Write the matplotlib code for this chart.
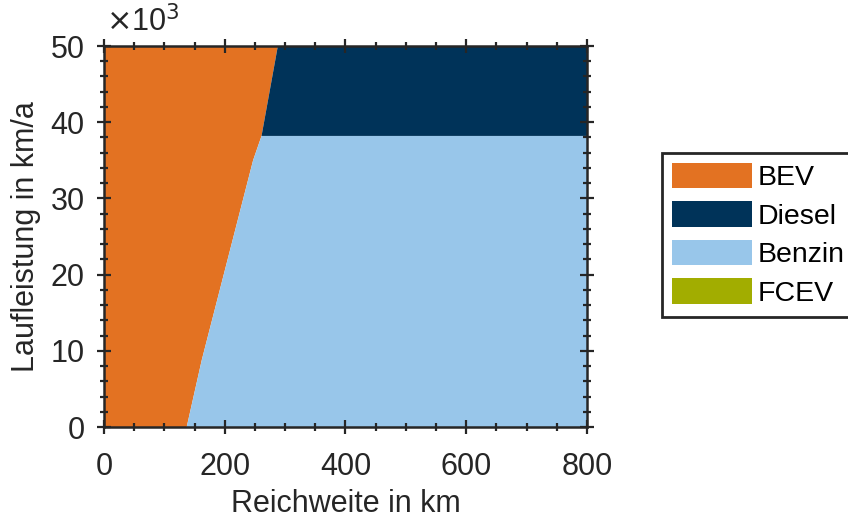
import matplotlib.pyplot as plt
from matplotlib.patches import Patch
from matplotlib.ticker import MultipleLocator, FuncFormatter

plt.rcParams['font.family'] = ['Liberation Sans', 'DejaVu Sans']

# boundary BEV / combustion (Reichweite in km vs. Laufleistung in km/a)
bound_x = [137, 162, 247, 261, 288]
bound_y = [0, 8800, 35000, 38200, 50000]
diesel_y = 38200          # Diesel above, Benzin below
x_max = 800
y_max = 50000

names = ['BEV', 'Diesel', 'Benzin', 'FCEV']
colors = ['#E37222', '#003359', '#98C6EA', '#A2AD00']

fig = plt.figure(figsize=(8.48, 5.24), dpi=100)
ax = fig.add_axes([0.1226, 0.1851, 0.5696, 0.7271])

# BEV region
bev_x = [0] + bound_x + [0]
bev_y = [0] + bound_y + [y_max]
ax.fill(bev_x, bev_y, color=colors[0], lw=0)

# Benzin region (below diesel threshold)
low = [(x, y) for x, y in zip(bound_x, bound_y) if y <= diesel_y]
benz_x = [p[0] for p in low] + [x_max, x_max]
benz_y = [p[1] for p in low] + [diesel_y, 0]
ax.fill(benz_x, benz_y, color=colors[2], lw=0)

# Diesel region
high = [(x, y) for x, y in zip(bound_x, bound_y) if y >= diesel_y]
dies_x = [p[0] for p in high] + [x_max, x_max]
dies_y = [p[1] for p in high] + [y_max, diesel_y]
ax.fill(dies_x, dies_y, color=colors[1], lw=0)

ax.set_xlim(0, x_max)
ax.set_ylim(0, y_max)
ax.xaxis.set_major_locator(MultipleLocator(200))
ax.xaxis.set_minor_locator(MultipleLocator(50))
ax.yaxis.set_major_locator(MultipleLocator(10000))
ax.yaxis.set_minor_locator(MultipleLocator(2000))
ax.yaxis.set_major_formatter(FuncFormatter(lambda v, p: f'{v/1000:.0f}'))

dark = '#262626'
for s in ax.spines.values():
    s.set_linewidth(1.8)
    s.set_color(dark)
ax.tick_params(which='both', direction='inout', top=True, right=True,
               color=dark, width=1.6, labelsize=22, labelcolor=dark)
ax.tick_params(which='major', length=10)
ax.tick_params(which='minor', length=6)
ax.tick_params(axis='x', which='major', pad=13)
ax.tick_params(axis='y', which='major', pad=9)

ax.set_xlabel('Reichweite in km', fontsize=22, color=dark, labelpad=5)
ax.set_ylabel('Laufleistung in km/a', fontsize=22, color=dark, labelpad=7)
ax.text(0.005, 1.02, r'$\times$10$^3$', transform=ax.transAxes, fontsize=22,
        color=dark, ha='left', va='bottom')

handles = [Patch(facecolor=c, edgecolor='none', label=n) for c, n in zip(colors, names)]
leg = fig.legend(handles=handles, loc='upper left', bbox_to_anchor=(0.7807, 0.708),
                 bbox_transform=fig.transFigure, fontsize=20.5, frameon=True,
                 fancybox=False, framealpha=1, edgecolor='#262626',
                 handlelength=2.8, handleheight=1.0, handletextpad=0.2,
                 borderpad=0.35, labelspacing=0.35, borderaxespad=0)
leg.get_frame().set_linewidth(2)

fig.savefig('out.png', dpi=100)
